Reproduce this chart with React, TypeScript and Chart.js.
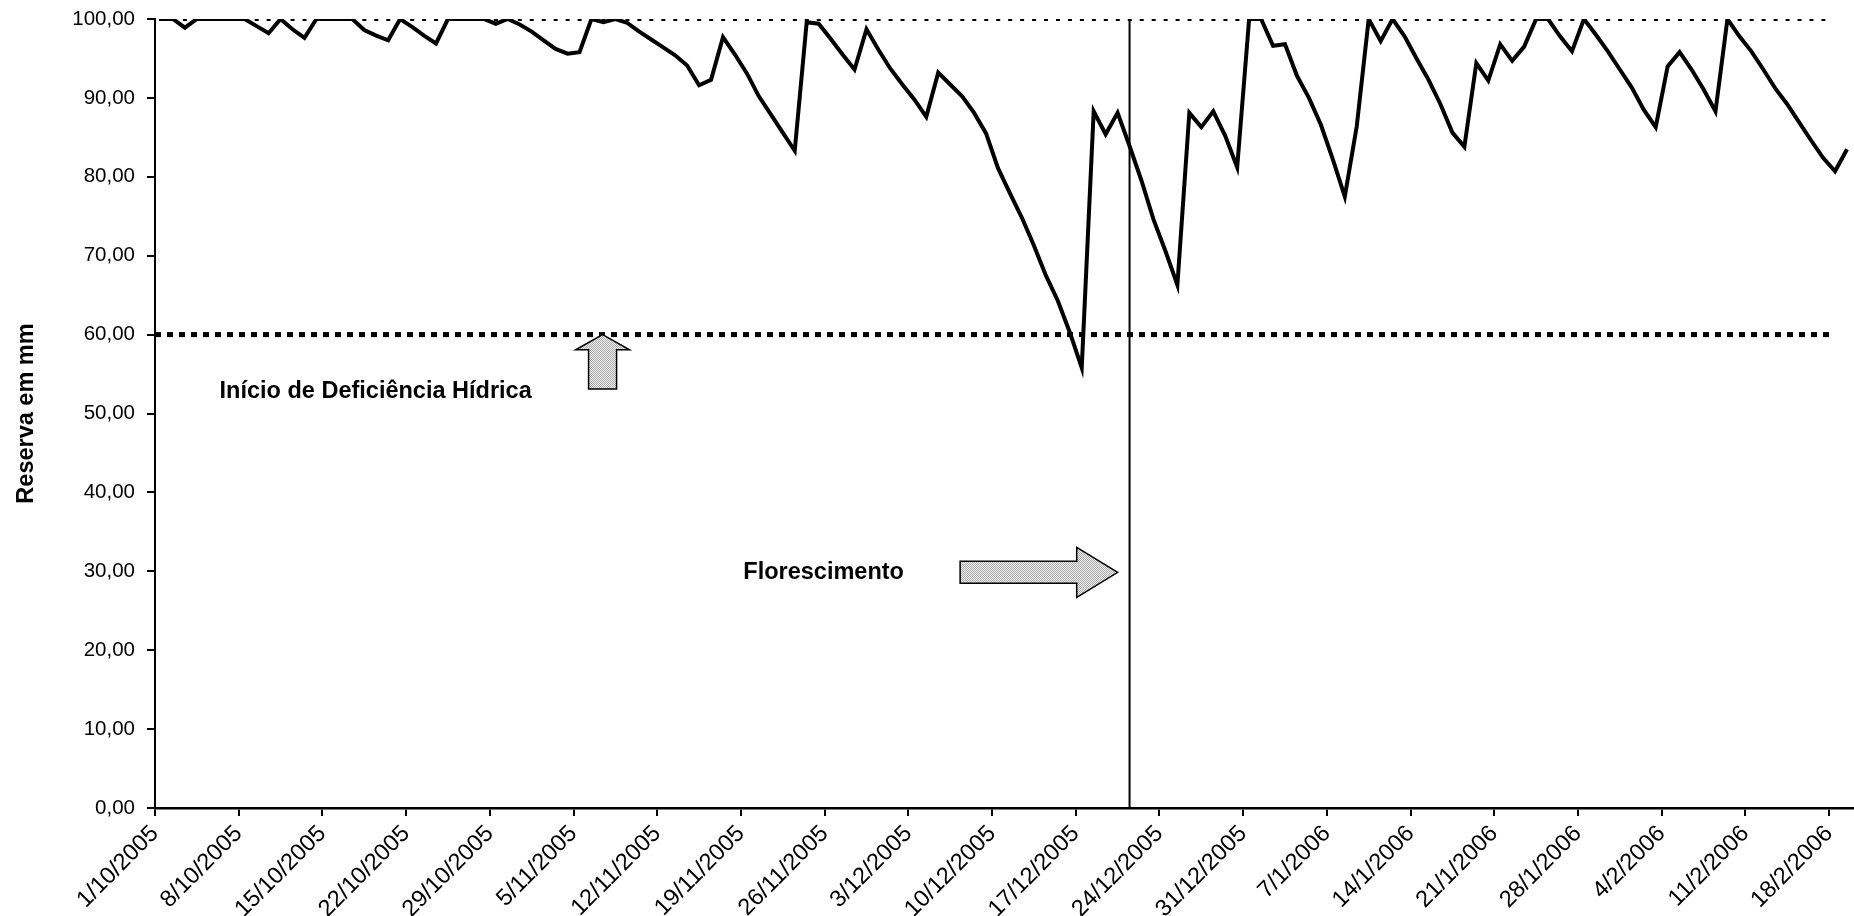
import React, { useEffect, useRef } from 'react';
import { Chart, registerables } from 'chart.js';

Chart.register(...registerables);

// Tick labels of the date axis (one every 7 days, starting 1/10/2005)
const xTickLabels = [
  '1/10/2005', '8/10/2005', '15/10/2005', '22/10/2005', '29/10/2005',
  '5/11/2005', '12/11/2005', '19/11/2005', '26/11/2005', '3/12/2005',
  '10/12/2005', '17/12/2005', '24/12/2005', '31/12/2005', '7/1/2006',
  '14/1/2006', '21/1/2006', '28/1/2006', '4/2/2006', '11/2/2006', '18/2/2006',
];
const tickStepDays = 7;
const totalDays = 142;

// Daily soil water reserve (mm), from 1/10/2005 to 20/2/2006
const reserva = [
  100, 100, 98.9, 100, 100, 100, 100, 100, 99.1, 98.2,
  100, 98.7, 97.6, 100, 100, 100, 100, 98.6, 97.9, 97.3,
  100, 99.0, 97.9, 96.9, 100, 100, 100, 100, 99.4, 100,
  99.3, 98.4, 97.3, 96.2, 95.6, 95.8, 100, 99.6, 100, 99.5,
  98.4, 97.4, 96.4, 95.4, 94.1, 91.6, 92.3, 97.7, 95.5, 93.1,
  90.2, 87.9, 85.6, 83.3, 99.6, 99.4, 97.5, 95.5, 93.6, 98.7,
  96.1, 93.7, 91.7, 89.8, 87.6, 93.2, 91.7, 90.2, 88.1, 85.5,
  81.1, 77.9, 74.8, 71.3, 67.5, 64.3, 60.3, 55.8, 88.3, 85.4,
  88.1, 83.9, 79.5, 74.6, 70.6, 66.3, 88.1, 86.3, 88.3, 85.2,
  81.2, 100, 100, 96.6, 96.8, 92.8, 90.0, 86.6, 82.2, 77.5,
  86.4, 100, 97.2, 100, 97.8, 95.0, 92.3, 89.2, 85.6, 83.8,
  94.4, 92.2, 96.8, 94.7, 96.5, 100, 100, 97.8, 95.9, 100,
  98.0, 95.9, 93.6, 91.3, 88.5, 86.3, 94.0, 95.8, 93.6, 91.1,
  88.3, 100, 97.8, 95.9, 93.6, 91.2, 89.2, 86.9, 84.6, 82.4,
  80.7, 83.5,
];

// Reference levels
const capacidadeMaxima = 100;
const limiteDeficiencia = 60;
const refLineDays = [0, 140];
const florescimentoDay = 81.5;

const yMin = 0;
const yMax = 100;
const yStep = 10;

const FONT = '"Liberation Sans", Arial, Helvetica, sans-serif';

const annotationPlugin = {
  id: 'annotations',
  afterDatasetsDraw(chart: any) {
    const { ctx, scales } = chart;
    const x = scales.x;
    const y = scales.y;
    ctx.save();

    // stipple pattern for arrows
    const pc = document.createElement('canvas');
    pc.width = 2;
    pc.height = 2;
    const pctx = pc.getContext('2d')!;
    pctx.fillStyle = '#f2f2f2';
    pctx.fillRect(0, 0, 2, 2);
    pctx.fillStyle = '#a8a8a8';
    pctx.fillRect(0, 0, 1, 1);
    pctx.fillRect(1, 1, 1, 1);
    const pattern = ctx.createPattern(pc, 'repeat');

    ctx.fillStyle = '#000';
    ctx.font = `bold 23.5px ${FONT}`;
    ctx.textBaseline = 'alphabetic';
    ctx.textAlign = 'left';
    ctx.fillText('Início de Deficiência Hídrica', x.getPixelForValue(5.4), y.getPixelForValue(52.0));
    ctx.fillText('Florescimento', x.getPixelForValue(49.2), y.getPixelForValue(29.0));

    ctx.lineWidth = 1.5;
    ctx.strokeStyle = '#000';
    ctx.lineJoin = 'miter';

    // up arrow
    const ax = x.getPixelForValue(37.43);
    const tipY = y.getPixelForValue(60);
    const headY = y.getPixelForValue(58.07);
    const baseY = y.getPixelForValue(53.1);
    ctx.beginPath();
    ctx.moveTo(ax, tipY);
    ctx.lineTo(ax + 27, headY);
    ctx.lineTo(ax + 14, headY);
    ctx.lineTo(ax + 14, baseY);
    ctx.lineTo(ax - 14, baseY);
    ctx.lineTo(ax - 14, headY);
    ctx.lineTo(ax - 27, headY);
    ctx.closePath();
    ctx.fillStyle = pattern || '#d6d6d6';
    ctx.fill();
    ctx.stroke();

    // right arrow
    const sx = x.getPixelForValue(67.33);
    const hx = x.getPixelForValue(77.08);
    const tx = x.getPixelForValue(80.51);
    const cy = y.getPixelForValue(29.87);
    ctx.beginPath();
    ctx.moveTo(tx, cy);
    ctx.lineTo(hx, cy - 25);
    ctx.lineTo(hx, cy - 11);
    ctx.lineTo(sx, cy - 11);
    ctx.lineTo(sx, cy + 11);
    ctx.lineTo(hx, cy + 11);
    ctx.lineTo(hx, cy + 25);
    ctx.closePath();
    ctx.fill();
    ctx.stroke();

    ctx.restore();
  },
};

export default function App() {
  const canvasRef = useRef<HTMLCanvasElement | null>(null);

  useEffect(() => {
    if (!canvasRef.current) return;
    const mainData = reserva.map((v, i) => ({ x: i + 0.5, y: v }));
    const capData = refLineDays.map((d) => ({ x: d, y: capacidadeMaxima }));
    const limData = refLineDays.map((d) => ({ x: d, y: limiteDeficiencia }));
    const florData = [
      { x: florescimentoDay, y: yMin },
      { x: florescimentoDay, y: yMax },
    ];

    const chart = new Chart(canvasRef.current, {
      type: 'line',
      data: {
        datasets: [
          {
            label: 'Capacidade',
            data: capData,
            borderColor: '#000',
            borderWidth: 4,
            borderDash: [4, 7.96],
            borderDashOffset: -4,
            pointRadius: 0,
            fill: false,
          },
          {
            label: 'Limite',
            data: limData,
            borderColor: '#000',
            borderWidth: 5,
            borderDash: [6, 6],
            pointRadius: 0,
            fill: false,
          },
          {
            label: 'Florescimento',
            data: florData,
            borderColor: '#000',
            borderWidth: 2,
            pointRadius: 0,
            fill: false,
          },
          {
            label: 'Reserva',
            data: mainData,
            borderColor: '#000',
            borderWidth: 4,
            pointRadius: 0,
            tension: 0,
            fill: false,
            borderJoinStyle: 'miter',
          },
        ],
      },
      options: {
        animation: false,
        responsive: true,
        maintainAspectRatio: false,
        layout: { padding: { top: 19, right: 1, left: 0, bottom: 0 } },
        plugins: {
          legend: { display: false },
          tooltip: { enabled: false },
        },
        scales: {
          x: {
            type: 'linear',
            min: 0,
            max: totalDays,
            afterBuildTicks: (scale: any) => {
              scale.ticks = xTickLabels.map((_, i) => ({ value: i * tickStepDays }));
            },
            afterFit: (scale: any) => {
              scale.height = 108;
            },
            ticks: {
              autoSkip: false,
              maxRotation: 45,
              minRotation: 45,
              padding: 4,
              color: '#000',
              font: { family: FONT, size: 23.5 },
              callback: (v: any) => xTickLabels[Math.round(Number(v) / tickStepDays)] ?? '',
            },
            grid: {
              display: true,
              drawOnChartArea: false,
              drawTicks: true,
              tickLength: 8,
              color: '#000',
              lineWidth: 2,
            },
            border: { display: true, color: '#000', width: 2.5 },
          },
          y: {
            min: yMin,
            max: yMax,
            afterFit: (scale: any) => {
              scale.width = 155;
              scale.paddingTop = 0;
              scale.paddingBottom = 0;
            },
            ticks: {
              stepSize: yStep,
              padding: 12,
              color: '#000',
              font: { family: FONT, size: 20.5, lineHeight: 0.8 },
              callback: (v: any) => Number(v).toFixed(2).replace('.', ','),
            },
            grid: {
              display: true,
              drawOnChartArea: false,
              drawTicks: true,
              tickLength: 8,
              color: '#000',
              lineWidth: 2,
            },
            border: { display: true, color: '#000', width: 2 },
            title: {
              display: true,
              text: 'Reserva em mm',
              color: '#000',
              font: { family: FONT, size: 23.5, weight: 'bold' },
              padding: { top: 12, bottom: 0 },
            },
          },
        },
      },
      plugins: [annotationPlugin],
    });

    return () => {
      chart.destroy();
    };
  }, []);

  return (
    <div style={{ position: 'absolute', left: 0, top: 0, width: 1854, height: 916, background: '#fff' }}>
      <canvas ref={canvasRef} />
    </div>
  );
}
